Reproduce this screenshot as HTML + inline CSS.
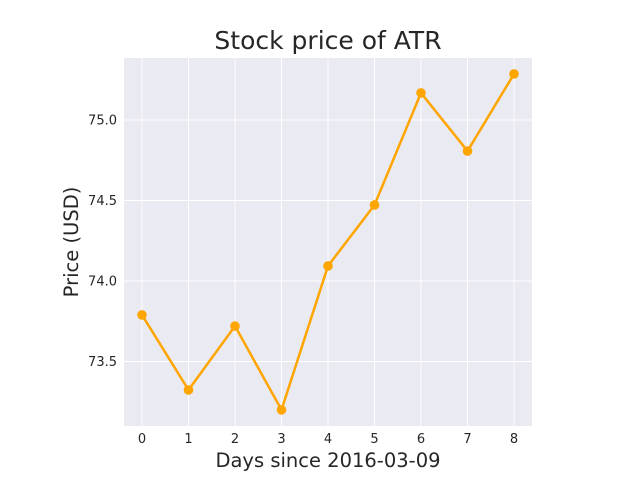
<!DOCTYPE html>
<html><head><meta charset="utf-8">
<style>
body{margin:0;background:#fff;}
svg{display:block;font-family:"DejaVu Sans","Liberation Sans",sans-serif;}
</style></head>
<body>
<svg id="chart" width="640" height="480">
<rect x="124" y="58" width="408" height="368" fill="#eaeaf2"/>
<g id="grid"></g>
<g id="ticks"></g>
<path id="line" fill="none" stroke="#ffa500" stroke-width="2.5"/>
<g id="points"></g>
<text x="328" y="49" text-anchor="middle" font-size="25" fill="#262626">Stock price of ATR</text>
<text x="328" y="467" text-anchor="middle" font-size="19.5" fill="#262626">Days since 2016-03-09</text>
<text transform="translate(78,242) rotate(-90)" text-anchor="middle" font-size="19.5" fill="#262626">Price (USD)</text>
</svg>
<script>
const days=[0,1,2,3,4,5,6,7,8];
const prices=[73.789,73.323,73.72,73.199,74.093,74.472,75.168,74.807,75.286];
const yTicks=[73.5,74.0,74.5,75.0];
const yTickLabels=["73.5","74.0","74.5","75.0"];
const xTicks=[0,1,2,3,4,5,6,7,8];

const L=124,R=532,T=58,B=426;
const xMin=-0.387,xMax=8.387,yMin=73.099,yMax=75.385;
const sx=v=>L+(v-xMin)/(xMax-xMin)*(R-L);
const sy=v=>B-(v-yMin)/(yMax-yMin)*(B-T);
const NS="http://www.w3.org/2000/svg";
const grid=document.getElementById('grid'),ticks=document.getElementById('ticks'),pts=document.getElementById('points');
xTicks.forEach(t=>{
  const l=document.createElementNS(NS,'line');
  l.setAttribute('x1',sx(t));l.setAttribute('x2',sx(t));l.setAttribute('y1',T);l.setAttribute('y2',B);
  l.setAttribute('stroke','#fff');l.setAttribute('stroke-width','1');
  
  
  grid.appendChild(l);
  const tx=document.createElementNS(NS,'text');
  tx.setAttribute('x',sx(t));tx.setAttribute('y',443);tx.setAttribute('text-anchor','middle');
  tx.setAttribute('font-size','13');tx.setAttribute('fill','#262626');
  tx.textContent=t;
  
  
  ticks.appendChild(tx);
});
yTicks.forEach((t,i)=>{
  const l=document.createElementNS(NS,'line');
  l.setAttribute('x1',L);l.setAttribute('x2',R);l.setAttribute('y1',sy(t));l.setAttribute('y2',sy(t));
  l.setAttribute('stroke','#fff');l.setAttribute('stroke-width','1');
  
  
  grid.appendChild(l);
  const tx=document.createElementNS(NS,'text');
  tx.setAttribute('x',117);tx.setAttribute('y',sy(t)+4.5);tx.setAttribute('text-anchor','end');
  tx.setAttribute('font-size','13');tx.setAttribute('fill','#262626');
  tx.textContent=yTickLabels[i];
  
  
  ticks.appendChild(tx);
});
document.getElementById('line').setAttribute('d',days.map((d,i)=>(i?'L':'M')+sx(d)+','+sy(prices[i])).join(' '));
days.forEach((d,i)=>{
  const c=document.createElementNS(NS,'circle');
  c.setAttribute('cx',sx(d));c.setAttribute('cy',sy(prices[i]));c.setAttribute('r','4.8');c.setAttribute('fill','#ffa500');
  
  
  pts.appendChild(c);
});
</script>
</body></html>
